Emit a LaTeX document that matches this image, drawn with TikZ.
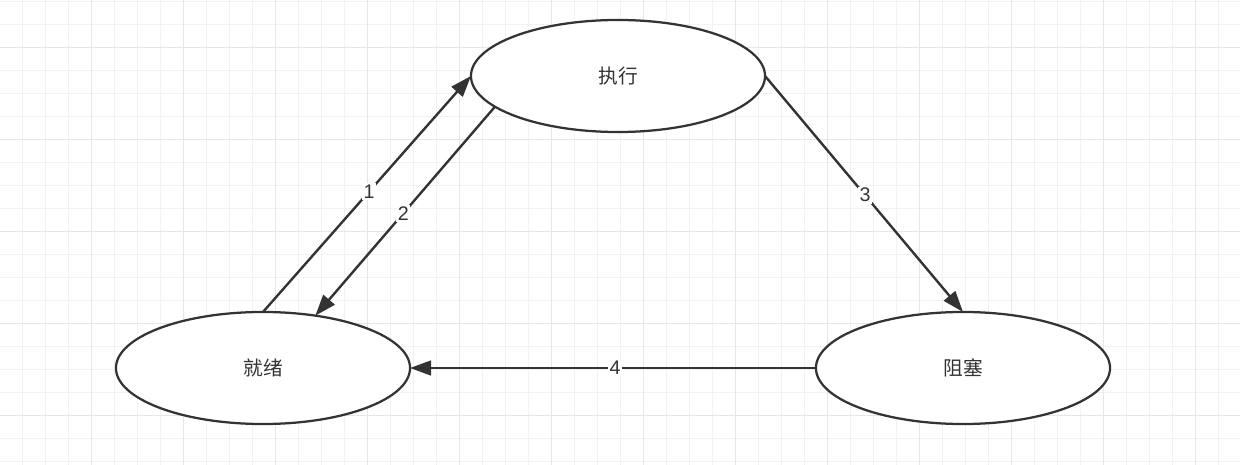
\documentclass[tikz,border=0pt]{standalone}
\usepackage{fontspec}
\setmainfont{Liberation Sans}
\newfontfamily\cjk{Noto Sans CJK SC}
\usetikzlibrary{shapes, arrows.meta, positioning, calc}
\definecolor{linegray}{RGB}{51, 51, 51}
\definecolor{minorgray}{RGB}{242, 242, 242}
\definecolor{majorgray}{RGB}{230, 230, 230}

\begin{document}
\begin{tikzpicture}[
  x=0.025cm, y=-0.025cm,
  state/.style={ellipse, draw=linegray, line width=1.6pt, fill=white,
                minimum width=7.35cm, minimum height=2.8cm, inner sep=0pt,
                outer sep=0pt, font=\cjk\fontsize{14}{16}\selectfont, text=linegray},
  trans/.style={draw=linegray, line width=1.7pt,
                -{Triangle[length=15pt, width=10.5pt]}},
  num/.style={fill=white, inner sep=1pt, text=linegray,
              font=\fontsize{14}{16}\selectfont},
  minorline/.style={draw=minorgray, line width=0.7pt},
  majorline/.style={draw=majorgray, line width=0.7pt}
]
  \useasboundingbox (0,0) rectangle (1240,465);
  \fill[white] (0,0) rectangle (1240,465);

  % grid
  \foreach \i in {0,...,54}
    \draw[minorline] ({-0.3+23*\i},0) -- ({-0.3+23*\i},465);
  \foreach \j in {0,...,20}
    \draw[minorline] (0,{1.7+23*\j}) -- (1240,{1.7+23*\j});
  \foreach \i in {0,...,13}
    \draw[majorline] ({-0.5+92*\i},0) -- ({-0.5+92*\i},465);
  \foreach \j in {0,...,4}
    \draw[majorline] (0,{47.7+92*\j}) -- (1240,{47.7+92*\j});

  % states
  \node[state] (run) at (618, 76) {执行};
  \node[state] (ready) at (263, 368) {就绪};
  \node[state] (block) at (963, 368) {阻塞};

  % transitions
  \draw[trans] (ready.north) -- node[num, pos=0.51] {1} (run.west);
  \draw[trans] (run.194) -- node[num, pos=0.51] {2} (ready.45);
  \draw[trans] (run.east) -- node[num, pos=0.505] {3} (block.north);
  \draw[trans] (block.west) -- node[num, pos=0.495] {4} (ready.east);
\end{tikzpicture}
\end{document}
